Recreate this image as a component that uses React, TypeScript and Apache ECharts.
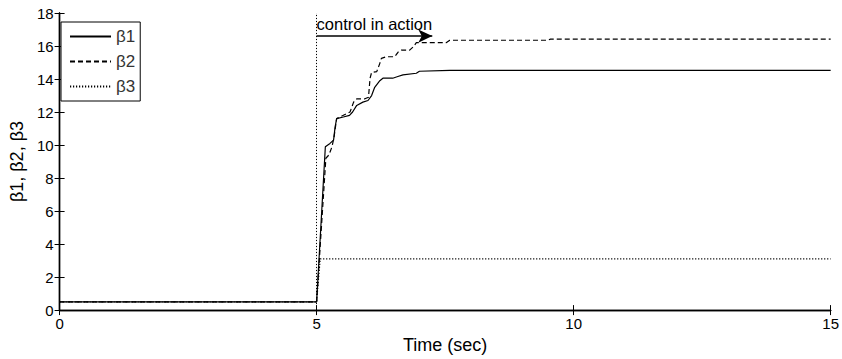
import React, { useEffect, useRef } from "react";
import * as echarts from "echarts";

const seriesNames = ["β1", "β2", "β3"];

const beta1Time = [0, 5, 5.17, 5.26, 5.33, 5.36, 5.39, 5.52, 5.64, 5.7, 5.78, 5.9, 6.0, 6.07, 6.13, 6.23, 6.29, 6.48, 6.58, 6.68, 6.94, 7.0, 7.59, 15];
const beta1Value = [0.5, 0.5, 9.9, 10.1, 10.3, 11.1, 11.6, 11.7, 11.8, 12.0, 12.4, 12.6, 12.7, 13.0, 13.5, 13.9, 14.05, 14.05, 14.15, 14.25, 14.35, 14.47, 14.52, 14.52];

const beta2Time = [0, 5, 5.18, 5.24, 5.3, 5.34, 5.39, 5.65, 5.72, 5.78, 5.94, 6.01, 6.02, 6.04, 6.07, 6.17, 6.23, 6.26, 6.36, 6.52, 6.59, 6.65, 6.81, 6.88, 6.94, 7.52, 7.59, 9.5, 9.55, 15];
const beta2Value = [0.5, 0.5, 9.2, 9.4, 9.9, 10.5, 11.6, 12.0, 12.6, 12.8, 12.8, 12.9, 13.3, 14.05, 14.4, 14.45, 14.95, 15.25, 15.35, 15.35, 15.65, 15.75, 15.75, 15.95, 16.2, 16.2, 16.35, 16.35, 16.42, 16.42];

const beta3Time = [0, 5, 5.07, 15];
const beta3Value = [0.5, 0.5, 3.1, 3.1];

const controlStart = 5;
const arrowEnd = 7.25;
const arrowLevel = 16.6;
const annotationText = "control in action";

const xTicks = { min: 0, max: 15, interval: 5 };
const yTicks = { min: 0, max: 18, interval: 2 };

const zip = (t: number[], v: number[]) => t.map((x, i) => [x, v[i]]);

const FONT = "Liberation Sans, Arial, Helvetica, sans-serif";

export default function App() {
  const ref = useRef<HTMLDivElement>(null);
  useEffect(() => {
    if (!ref.current) return;
    const chart = echarts.init(ref.current, undefined, { renderer: "svg" });
    const axisLine = { show: true, lineStyle: { color: "#000", width: 1.4 } };
    const tick = { show: true, inside: true, length: 5, lineStyle: { color: "#000", width: 1 } };
    const lineBase = { type: "line", showSymbol: false, symbol: "none", animation: false, z: 3 };
    chart.setOption({
      animation: false,
      backgroundColor: "#fff",
      textStyle: { fontFamily: FONT },
      grid: { left: 58, right: 9, top: 13, bottom: 48, containLabel: false },
      legend: {
        orient: "vertical",
        left: 61,
        top: 22,
        padding: [6, 5, 6, 8],
        itemGap: 8,
        itemWidth: 41,
        itemHeight: 14,
        borderColor: "#000",
        borderWidth: 1,
        backgroundColor: "#fff",
        itemStyle: { opacity: 0 },
        textStyle: { color: "#333", fontSize: 17, fontFamily: FONT, padding: [0, 0, 0, 0] },
        data: seriesNames,
      },
      xAxis: [
        {
          type: "value",
          position: "bottom",
          min: xTicks.min,
          max: xTicks.max,
          interval: xTicks.interval,
          name: "Time (sec)",
          nameLocation: "middle",
          nameGap: 20,
          nameTextStyle: { color: "#000", fontSize: 18, fontFamily: FONT },
          axisLine,
          axisTick: tick,
          axisLabel: { color: "#000", fontSize: 15, margin: 6, fontFamily: FONT, showMaxLabel: true },
          splitLine: { show: false },
        },
        {
          type: "value",
          position: "top",
          min: xTicks.min,
          max: xTicks.max,
          interval: xTicks.interval,
          axisLine,
          axisTick: tick,
          axisLabel: { show: false },
          splitLine: { show: false },
        },
      ],
      yAxis: [
        {
          type: "value",
          position: "left",
          min: yTicks.min,
          max: yTicks.max,
          interval: yTicks.interval,
          name: "β1, β2, β3",
          nameLocation: "middle",
          nameGap: 29,
          nameTextStyle: { color: "#000", fontSize: 18, fontFamily: FONT },
          axisLine,
          axisTick: tick,
          axisLabel: { color: "#000", fontSize: 15, margin: 6, fontFamily: FONT },
          splitLine: { show: false },
        },
        {
          type: "value",
          position: "right",
          min: yTicks.min,
          max: yTicks.max,
          interval: yTicks.interval,
          axisLine,
          axisTick: tick,
          axisLabel: { show: false },
          splitLine: { show: false },
        },
      ],
      series: [
        {
          ...lineBase,
          name: seriesNames[0],
          data: zip(beta1Time, beta1Value),
          lineStyle: { color: "#000", width: 1.2, type: "solid" },
          itemStyle: { color: "#000" },
        },
        {
          ...lineBase,
          name: seriesNames[1],
          data: zip(beta2Time, beta2Value),
          lineStyle: { color: "#000", width: 1.2, type: [5, 3] },
          itemStyle: { color: "#000" },
        },
        {
          ...lineBase,
          name: seriesNames[2],
          data: zip(beta3Time, beta3Value),
          lineStyle: { color: "#000", width: 1.2, type: [1.2, 1.8] },
          itemStyle: { color: "#000" },
          markLine: {
            silent: true,
            animation: false,
            symbol: "none",
            label: { show: false },
            lineStyle: { color: "#000", width: 1, type: [1.2, 1.8] },
            data: [{ xAxis: controlStart }],
          },
        },
        {
          type: "line",
          data: [],
          silent: true,
          markLine: {
            silent: true,
            animation: false,
            data: [
              [
                { coord: [controlStart, arrowLevel], symbol: "none" },
                { coord: [arrowEnd, arrowLevel], symbol: "arrow", symbolSize: [10, 14] },
              ],
            ],
            lineStyle: { color: "#000", width: 1.5, type: "solid" },
            itemStyle: { color: "#000" },
            label: {
              show: true,
              position: "insideStartTop",
              formatter: annotationText,
              color: "#000",
              fontSize: 16.5,
              fontFamily: FONT,
              distance: [0, 4],
            },
          },
        },
      ],
    });
    return () => chart.dispose();
  }, []);
  return (
    <div
      ref={ref}
      style={{ position: "fixed", left: 0, top: 0, width: 842, height: 359, background: "#fff" }}
    />
  );
}
